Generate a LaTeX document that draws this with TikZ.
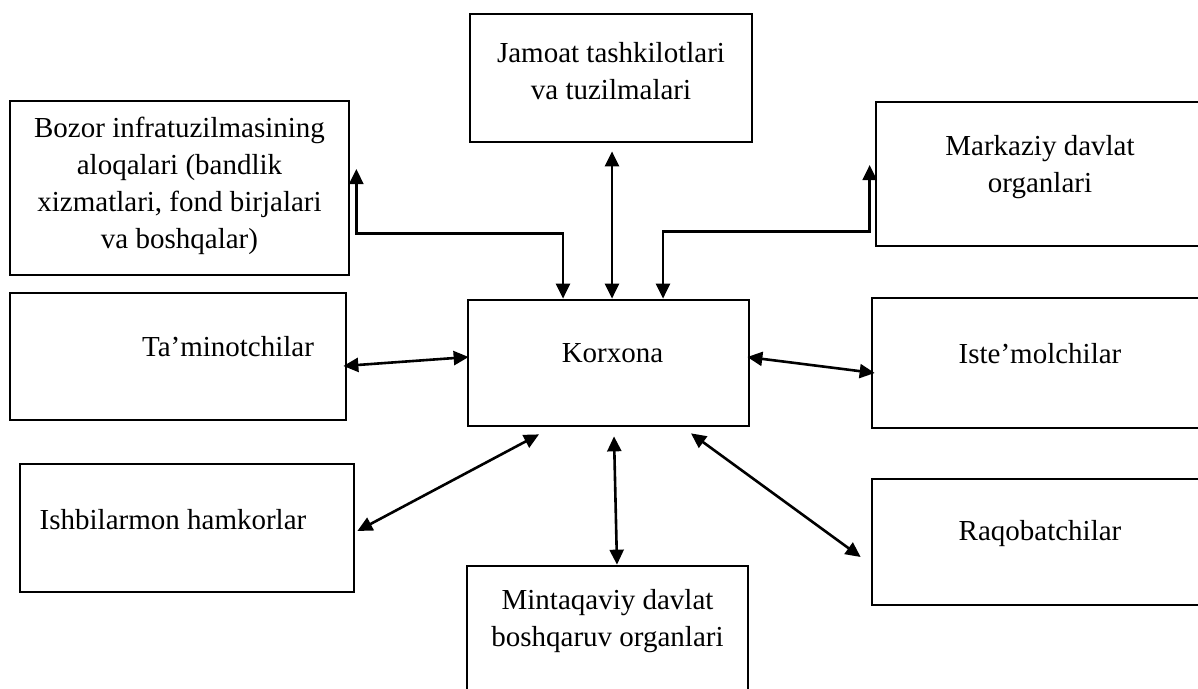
\documentclass[tikz,border=0pt]{standalone}
\usepackage{fontspec}
\setmainfont{Liberation Serif}
\usetikzlibrary{arrows.meta}

\begin{document}
\begin{tikzpicture}[x=1pt,y=-1pt,
  box/.style={draw, line width=2.7pt, inner sep=0pt},
  txt/.style={inner sep=0pt, align=center, font=\fontsize{29}{37}\selectfont},
  link/.style={{Triangle[length=15pt,width=14pt]}-{Triangle[length=15pt,width=14pt]}, line width=2.6pt}]
\clip (0,0) rectangle (1198,688);

%bloki
\node[box, minimum width=281pt, minimum height=126pt] (korx) at (608.5,363) {};
\node[box, minimum width=282pt, minimum height=128pt] (jamoat) at (611,78) {};
\node[box, minimum width=339pt, minimum height=174pt] (bozor) at (179.5,188) {};
\node[box, minimum width=328pt, minimum height=144pt] (markaz) at (1040,174) {};
\node[box, minimum width=336pt, minimum height=127pt] (taminot) at (178,356.5) {};
\node[box, minimum width=336pt, minimum height=130pt] (istemol) at (1040,363) {};
\node[box, minimum width=334pt, minimum height=128pt] (ishbil) at (187,528) {};
\node[box, minimum width=336pt, minimum height=126pt] (raqob) at (1040,542) {};
\node[box, minimum width=281pt, minimum height=128pt] (mintaq) at (607.5,630) {};

%napisy
\node[txt] (korxT) at ([xshift=4pt,yshift=10pt]korx.center) {Korxona};
\node[txt] (jamoatT) at ([yshift=7pt]jamoat.center) {Jamoat tashkilotlari\\va tuzilmalari};
\node[txt] (bozorT) at ([yshift=2pt]bozor.center) {Bozor infratuzilmasining\\aloqalari (bandlik\\xizmatlari, fond birjalari\\va boshqalar)};
\node[txt] (markazT) at ([yshift=7pt]markaz.center) {Markaziy davlat\\organlari};
\node[txt] (taminotT) at ([xshift=50pt,yshift=10pt]taminot.center) {Ta’minotchilar};
\node[txt] (istemolT) at ([yshift=9.5pt]istemol.center) {Iste’molchilar};
\node[txt] (ishbilT) at ([xshift=-14pt,yshift=8pt]ishbil.center) {Ishbilarmon hamkorlar};
\node[txt] (raqobT) at ([yshift=8.5pt]raqob.center) {Raqobatchilar};
\node[txt] (mintaqT) at ([yshift=9pt]mintaq.center) {Mintaqaviy davlat\\boshqaruv organlari};

%strzalki gorne
\draw[link] ([xshift=6pt,yshift=19pt]bozor.east) |- ([xshift=-45.5pt,yshift=65pt]korx.north) -- ([xshift=-45.5pt]korx.north);
\draw[link] ([xshift=1pt,yshift=-8pt]jamoat.south) -- ([xshift=3.5pt]korx.north);
\draw[link] ([xshift=-5pt,yshift=9pt]markaz.west) |- ([xshift=54.5pt,yshift=67pt]korx.north) -- ([xshift=54.5pt]korx.north);

%strzalki boczne
\draw[link] ([xshift=-4pt,yshift=-9.5pt]taminot.east) -- ([xshift=2pt,yshift=6pt]korx.west);
\draw[link] ([xshift=-3pt,yshift=6pt]korx.east) -- ([xshift=4pt,yshift=-10pt]istemol.west);

%strzalki dolne
\draw[link] ([xshift=-69.5pt,yshift=-7pt]korx.south) -- ([xshift=2pt,yshift=-3pt]ishbil.east);
\draw[link] ([xshift=5.5pt,yshift=-9pt]korx.south) -- ([xshift=9.5pt]mintaq.north);
\draw[link] ([xshift=82.5pt,yshift=-6pt]korx.south) -- ([xshift=-10pt,yshift=-15pt]raqob.west);
\end{tikzpicture}
\end{document}
